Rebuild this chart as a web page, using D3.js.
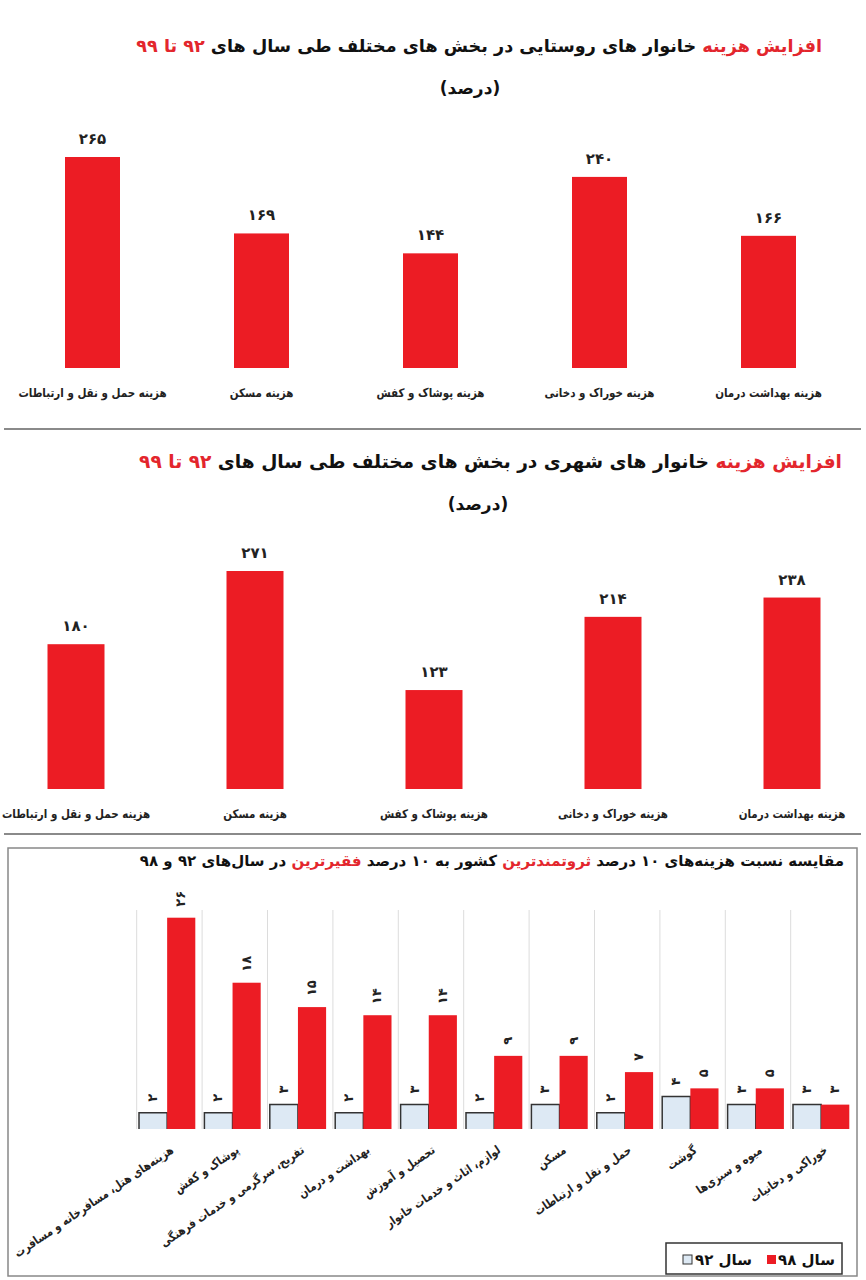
<!DOCTYPE html>
<html>
<head>
<meta charset="utf-8">
<script src="https://cdn.jsdelivr.net/npm/d3@7"></script>
<style>
  body { margin: 0; background: #fff; }
  svg { display: block; font-family: "DejaVu Sans", sans-serif; }
</style>
</head>
<body>
<div id="chart"></div>
<script>
// categories for the two top charts (left to right as printed)
const sectorNames = [
  'هزینه حمل و نقل و ارتباطات',
  'هزینه  مسکن',
  'هزینه  پوشاک و کفش',
  'هزینه خوراک و دخانی',
  'هزینه بهداشت درمان'
];
const ruralValues = [265, 169, 144, 240, 166];
const urbanValues = [180, 271, 123, 214, 238];

// bottom chart
const richPoorCategories = [
  'هزینه‌های هتل، مسافرخانه و  مسافرت',
  'پوشاک و کفش',
  'تفریح، سرگرمی و خدمات فرهنگی',
  'بهداشت و درمان',
  'تحصیل و آموزش',
  'لوازم، اثاث و خدمات خانوار',
  'مسکن',
  'حمل و نقل و ارتباطات',
  'گوشت',
  'میوه و سبزی‌ها',
  'خوراکی و دخانیات'
];
const values92 = [2, 2, 3, 2, 3, 2, 3, 2, 4, 3, 3];
const values98 = [26, 18, 15, 14, 14, 9, 9, 7, 5, 5, 3];
const seriesNames = ['سال ۹۲', 'سال ۹۸'];

const red = '#ec1c24';
const titleRed = '#e3262d';
const lightBlue = '#dde9f4';

const fa = (n) => String(n).replace(/\d/g, (d) => '۰۱۲۳۴۵۶۷۸۹'[d]);

// the print uses a narrow face, so squeeze the wide DejaVu glyphs sideways
function squeeze(sel, k) {
  sel.each(function() {
    const len = this.getComputedTextLength();
    d3.select(this)
      .attr('textLength', len * k)
      .attr('lengthAdjust', 'spacingAndGlyphs');
  });
}

const width = 866;
const height = 1280;

const svg = d3.select('#chart').append('svg')
    .attr('width', width)
    .attr('height', height);

function drawTitle(g, x, y, parts, size) {
  const t = g.append('text')
      .attr('x', x)
      .attr('y', y)
      .attr('direction', 'rtl')
      .attr('text-anchor', 'start')
      .attr('font-size', size)
      .attr('font-weight', 'bold');
  parts.forEach((p) => {
    t.append('tspan').attr('fill', p[1] ? titleRed : '#111').text(p[0]);
  });
}

function drawSectorChart(opts) {
  const g = svg.append('g');

  drawTitle(g, opts.titleRight, opts.titleY, [
    ['افزایش هزینه', true],
    [' ' + opts.titleMid + ' ', false],
    ['۹۲ تا ۹۹', true]
  ], opts.titleSize);

  g.append('text')
      .attr('x', opts.subX)
      .attr('y', opts.titleY + 42)
      .attr('text-anchor', 'middle')
      .attr('font-size', 17)
      .attr('font-weight', 'bold')
      .attr('fill', '#111')
      .text('(درصد)');

  const x = d3.scalePoint()
      .domain(sectorNames)
      .range(opts.xRange)
      .padding(0.5);

  const y = d3.scaleLinear()
      .domain([0, opts.refValue])
      .range([opts.baseline, opts.refTop]);

  const data = sectorNames.map((name, i) => ({ name, value: opts.values[i] }));

  g.selectAll('.bar')
    .data(data)
    .enter()
    .append('rect')
      .attr('fill', red)
      .attr('x', (d) => x(d.name) - opts.barWidth / 2)
      .attr('y', (d) => y(d.value))
      .attr('width', opts.barWidth)
      .attr('height', (d) => y(0) - y(d.value));

  g.selectAll('.val')
    .data(data)
    .enter()
    .append('text')
      .attr('x', (d) => x(d.name))
      .attr('y', (d) => y(d.value) - 13)
      .attr('text-anchor', 'middle')
      .attr('font-size', 15)
      .attr('font-weight', 'bold')
      .attr('fill', '#222')
      .text((d) => fa(d.value));

  const labels = g.selectAll('.lab')
    .data(data)
    .enter()
    .append('text')
      .attr('x', (d) => x(d.name))
      .attr('y', opts.baseline + 29)
      .attr('text-anchor', 'middle')
      .attr('font-size', 12)
      .attr('font-weight', 'bold')
      .attr('fill', '#222')
      .text((d) => d.name);
  squeeze(labels, 0.86);

  // separator under the chart
  g.append('line')
      .attr('x1', 4)
      .attr('x2', 861)
      .attr('y1', opts.ruleY)
      .attr('y2', opts.ruleY)
      .attr('stroke', '#8a8a8a')
      .attr('stroke-width', 2);
}

drawSectorChart({
  titleRight: 822,
  titleY: 52,
  titleMid: 'خانوار های روستایی در بخش های مختلف طی سال های',
  titleSize: 17.6,
  subX: 470,
  xRange: [8, 853],
  barWidth: 55,
  baseline: 368,
  refValue: 265,
  refTop: 157,
  values: ruralValues,
  ruleY: 429
});

drawSectorChart({
  titleRight: 842,
  titleY: 468,
  titleMid: 'خانوار های شهری در بخش های مختلف طی سال های',
  titleSize: 18.6,
  subX: 478,
  xRange: [-13.5, 881.5],
  barWidth: 57,
  baseline: 789,
  refValue: 271,
  refTop: 571,
  values: urbanValues,
  ruleY: 834
});

// ---- bottom chart: rich vs poor ratio ----
const g3 = svg.append('g');

g3.append('rect')
    .attr('x', 8)
    .attr('y', 848)
    .attr('width', 849)
    .attr('height', 428)
    .attr('fill', 'none')
    .attr('stroke', '#888')
    .attr('stroke-width', 1.5);

drawTitle(g3, 844, 866, [
  ['مقایسه نسبت هزینه‌های ۱۰ درصد ', false],
  ['ثروتمندترین', true],
  [' کشور به ۱۰ درصد ', false],
  ['فقیرترین', true],
  [' در سال‌های ۹۲ و ۹۸', false]
], 15);

const baseline3 = 1129;
const x3 = d3.scaleBand()
    .domain(richPoorCategories)
    .range([136.7, 856.1]);
const xSeries = d3.scaleBand()
    .domain(seriesNames)
    .range([2.3, 58.6]);
const y3 = d3.scaleLinear()
    .domain([0, 26])
    .range([baseline3, 917.7]);

const rows = richPoorCategories.map((name, i) => ({ name, v92: values92[i], v98: values98[i] }));

// vertical grid lines between groups
g3.selectAll('.grid')
  .data(richPoorCategories)
  .enter()
  .append('line')
    .attr('x1', (d) => x3(d))
    .attr('x2', (d) => x3(d))
    .attr('y1', 910)
    .attr('y2', baseline3)
    .attr('stroke', '#dcdcdc')
    .attr('stroke-width', 1);

const groups = g3.selectAll('.group')
  .data(rows)
  .enter()
  .append('g')
    .attr('transform', (d) => `translate(${x3(d.name)}, 0)`);

// year 92 bars: light fill, dark outline
groups.append('path')
    .attr('fill', lightBlue)
    .attr('stroke', '#333')
    .attr('stroke-width', 1.5)
    .attr('d', (d) => {
      const x0 = xSeries(seriesNames[0]);
      const x1 = x0 + xSeries.bandwidth();
      return `M${x0},${baseline3}V${y3(d.v92)}H${x1}V${baseline3}`;
    });

groups.append('rect')
    .attr('fill', red)
    .attr('x', xSeries(seriesNames[1]))
    .attr('y', (d) => y3(d.v98))
    .attr('width', xSeries.bandwidth())
    .attr('height', (d) => baseline3 - y3(d.v98));

// rotated value labels
groups.append('text')
    .attr('transform', (d) => `translate(${xSeries(seriesNames[0]) + xSeries.bandwidth() / 2 + 4}, ${y3(d.v92) - 11}) rotate(-90)`)
    .attr('font-size', 13)
    .attr('font-weight', 'bold')
    .attr('fill', '#222')
    .text((d) => fa(d.v92));

groups.append('text')
    .attr('transform', (d) => `translate(${xSeries(seriesNames[1]) + xSeries.bandwidth() / 2 + 4}, ${y3(d.v98) - 11}) rotate(-90)`)
    .attr('font-size', 13)
    .attr('font-weight', 'bold')
    .attr('fill', '#222')
    .text((d) => fa(d.v98));

// slanted category labels
const catLabels = groups.append('text')
    .attr('transform', `translate(${x3.bandwidth() / 2 + 5}, 1152) rotate(-34)`)
    .attr('direction', 'rtl')
    .attr('text-anchor', 'start')
    .attr('font-size', 12)
    .attr('font-weight', 'bold')
    .attr('fill', '#222')
    .text((d) => d.name);
squeeze(catLabels, 0.84);

// legend
const legend = g3.append('g');
legend.append('rect')
    .attr('x', 666)
    .attr('y', 1243)
    .attr('width', 176)
    .attr('height', 31)
    .attr('fill', '#fff')
    .attr('stroke', '#333')
    .attr('stroke-width', 1.5);

const legendItems = [
  { name: seriesNames[1], fill: red, stroke: 'none', textRight: 835, boxX: 767 },
  { name: seriesNames[0], fill: lightBlue, stroke: '#333', textRight: 752, boxX: 683 }
];

legend.selectAll('.item-box')
  .data(legendItems)
  .enter()
  .append('rect')
    .attr('x', (d) => d.boxX)
    .attr('y', 1255)
    .attr('width', 9)
    .attr('height', 9)
    .attr('fill', (d) => d.fill)
    .attr('stroke', (d) => d.stroke)
    .attr('stroke-width', 1);

legend.selectAll('.item-text')
  .data(legendItems)
  .enter()
  .append('text')
    .attr('x', (d) => d.textRight)
    .attr('y', 1265)
    .attr('direction', 'rtl')
    .attr('text-anchor', 'start')
    .attr('font-size', 15)
    .attr('font-weight', 'bold')
    .attr('fill', '#111')
    .text((d) => d.name);
</script>
</body>
</html>
